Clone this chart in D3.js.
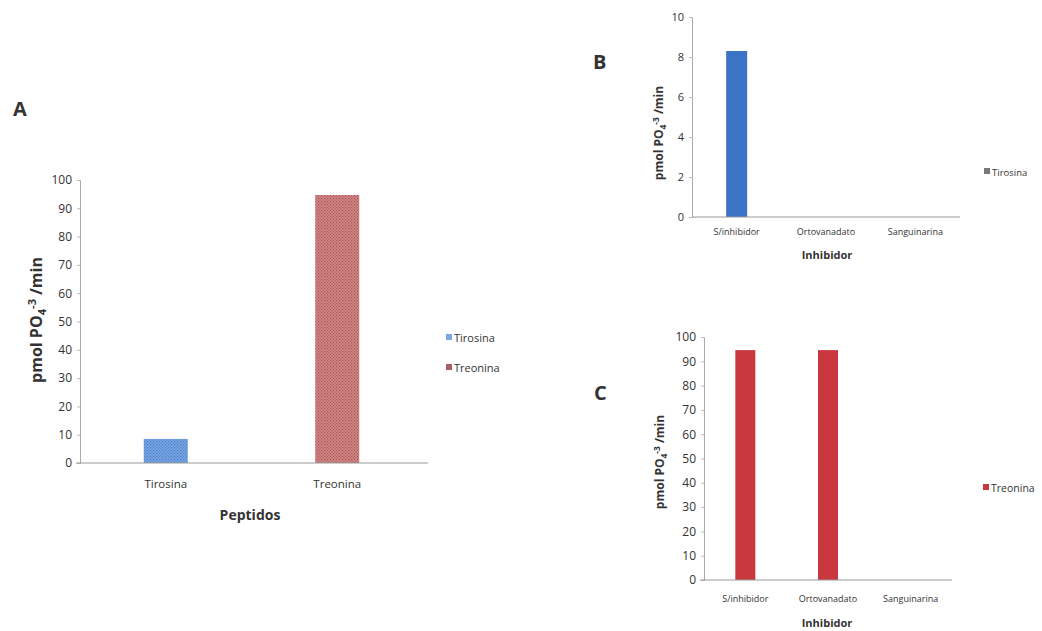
<!DOCTYPE html>
<html><head><meta charset="utf-8">
<script src="https://cdn.jsdelivr.net/npm/d3@7"></script>
<style>body{margin:0;background:#fff}svg{display:block}text{font-family:"Open Sans",sans-serif;fill:#333}</style>
</head><body><svg id="c" width="1042" height="631"></svg>
<script>
// Panel A
const catsA = ["Tirosina", "Treonina"];
const valsA = [8.5, 94.7];
const ticksA = [0,10,20,30,40,50,60,70,80,90,100];
// Panel B
const catsB = ["S/inhibidor", "Ortovanadato", "Sanguinarina"];
const valsB = [8.3, 0, 0];
const ticksB = [0,2,4,6,8,10];
// Panel C
const catsC = ["S/inhibidor", "Ortovanadato", "Sanguinarina"];
const valsC = [94.6, 94.6, 0];
const ticksC = [0,10,20,30,40,50,60,70,80,90,100];

const svg = d3.select("#c");
const defs = svg.append("defs");
function pat(id, bg, dot){
  const p = defs.append("pattern").attr("id",id).attr("width",3).attr("height",3).attr("patternUnits","userSpaceOnUse");
  p.append("rect").attr("width",3).attr("height",3).attr("fill",bg);
  p.append("rect").attr("width",1.2).attr("height",1.2).attr("fill",dot);
  p.append("rect").attr("x",1.5).attr("y",1.5).attr("width",1.2).attr("height",1.2).attr("fill",dot);
}
pat("pBlue","#7aa8e6","#4a7cc4");
pat("pRed","#d48a8a","#a85050");

function panel(o){
  const g = svg.append("g");
  const x = d3.scaleBand().domain(o.cats).range([o.x0,o.x1]).paddingInner(o.pad).paddingOuter(o.pad/2);
  const y = d3.scaleLinear().domain([0,o.max]).range([o.y0,o.y1]);
  const ya = g.append("g").attr("transform",`translate(${o.x0},0)`)
    .call(d3.axisLeft(y).tickValues(o.ticks).tickSize(3).tickPadding(5));
  ya.select(".domain").attr("stroke","#aaa");
  ya.selectAll(".tick line").attr("stroke","#bbb");
  ya.selectAll("text").style("font-size",o.tfs+"px").attr("fill","#444");
  g.selectAll("rect.bar").data(o.vals).join("rect").attr("class","bar")
    .attr("x",(d,i)=>x(o.cats[i]) + (x.bandwidth()-o.bw)/2)
    .attr("width",o.bw)
    .attr("y",d=>y(d)).attr("height",d=>o.y0-y(d))
    .attr("fill",(d,i)=>o.fill[i]);
  const xa = g.append("g").attr("transform",`translate(0,${o.y0})`)
    .call(d3.axisBottom(x).tickSize(0).tickPadding(o.cpad));
  xa.select(".domain").attr("stroke","#999").attr("d",`M${o.xStart},0H${o.xEnd}`);
  xa.selectAll("text").style("font-size",o.cfs+"px").attr("fill","#444");
  g.append("text").attr("x",o.xtx).attr("y",o.xty).attr("text-anchor","middle")
    .style("font-size",o.xfs+"px").style("font-weight","bold").attr("fill","#444").text(o.xt);
  const yl = g.append("text").attr("transform",`translate(${o.ytx},${o.yty}) rotate(-90)`)
    .attr("text-anchor","middle").style("font-size",o.yfs+"px").style("font-weight","bold").attr("fill","#333");
  yl.append("tspan").text("pmol PO");
  yl.append("tspan").attr("dy",o.yfs*0.25).style("font-size",(o.yfs*0.7)+"px").text("4");
  yl.append("tspan").attr("dy",-o.yfs*0.6).style("font-size",(o.yfs*0.7)+"px").text("-3");
  yl.append("tspan").attr("dy",o.yfs*0.35).text(" /min");
  g.append("text").attr("x",o.lx).attr("y",o.ly).style("font-size","20px").style("font-weight","bold").attr("fill","#111").text(o.letter);
  o.legend.forEach((l,i)=>{
    g.append("rect").attr("x",l.x).attr("y",l.y-4).attr("width",6).attr("height",6).attr("fill",l.c);
    g.append("text").attr("x",l.x+8).attr("y",l.y+4).style("font-size",l.fs+"px").attr("fill","#444").text(l.t);
  });
}

panel({cats:catsA, vals:valsA, ticks:ticksA, max:100, x0:80, x1:423, xStart:76, xEnd:428, y0:463, y1:180, pad:0.75, bw:44,
  fill:["url(#pBlue)","url(#pRed)"], tfs:12, cfs:11.5, cpad:17, xt:"Peptidos", xtx:250, xty:520, xfs:14,
  ytx:42, yty:320, yfs:16, letter:"A", lx:13, ly:116,
  legend:[{x:446,y:338,c:"#7aa8e6",t:"Tirosina",fs:11},{x:446,y:368,c:"#a86060",t:"Treonina",fs:11}]});

panel({cats:catsB, vals:valsB, ticks:ticksB, max:10, x0:692, x1:960, xStart:692, xEnd:960, y0:217, y1:17, pad:0.76, bw:21,
  fill:["#3b74c6","#3b74c6","#3b74c6"], tfs:11, cfs:9, cpad:12, xt:"Inhibidor", xtx:827, xty:259, xfs:11,
  ytx:663, yty:133, yfs:12, letter:"B", lx:593, ly:69,
  legend:[{x:984,y:172,c:"#777",t:"Tirosina",fs:9.5}]});

panel({cats:catsC, vals:valsC, ticks:ticksC, max:100, x0:704, x1:952, xStart:700, xEnd:952, y0:580, y1:337, pad:0.76, bw:20,
  fill:["#c9373f","#c9373f","#c9373f"], tfs:12, cfs:9, cpad:16, xt:"Inhibidor", xtx:827, xty:627, xfs:11,
  ytx:664, yty:462, yfs:12, letter:"C", lx:594, ly:400,
  legend:[{x:983,y:488,c:"#c9373f",t:"Treonina",fs:10.5}]});
</script></body></html>
